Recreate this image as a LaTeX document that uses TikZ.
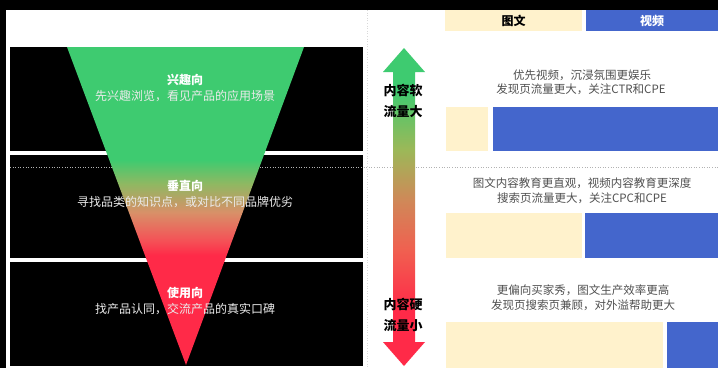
\documentclass[tikz,border=0pt]{standalone}
\usepackage{fontspec}
\setmainfont{Noto Sans CJK SC}
\definecolor{fgreen}{HTML}{3ECB70}
\definecolor{folive}{HTML}{8FB862}
\definecolor{forange}{HTML}{D89068}
\definecolor{forange2}{HTML}{F55056}
\definecolor{fred}{HTML}{FF2A48}
\definecolor{aolive}{HTML}{9CB858}
\definecolor{aorange}{HTML}{D08858}
\definecolor{asalmon}{HTML}{F06050}
\definecolor{cream}{HTML}{FFF2CC}
\definecolor{vblue}{HTML}{4466CC}
\definecolor{txtgray}{HTML}{505050}
\pgfdeclareverticalshading{funnelshade}{100bp}{color(0bp)=(fred); color(42.25bp)=(fred); color(44.5bp)=(forange2); color(49bp)=(forange); color(53.5bp)=(folive); color(57.25bp)=(fgreen); color(100bp)=(fgreen)}
\pgfdeclareverticalshading{arrowshade}{100bp}{color(0bp)=(fred); color(34bp)=(fred); color(43.25bp)=(asalmon); color(51bp)=(aorange); color(59bp)=(aolive); color(68.5bp)=(fgreen); color(100bp)=(fgreen)}
\tikzset{
  ftitle/.style={text=white, font=\fontsize{12}{14}\selectfont\bfseries, inner sep=0pt},
  ftext/.style={text=white!92!black, font=\fontsize{12}{14}\selectfont, inner sep=0pt},
  rtext/.style={text=txtgray, font=\fontsize{11.5}{13}\selectfont, inner sep=0pt},
  alabel/.style={text=black, font=\fontsize{13}{15}\selectfont\bfseries, inner sep=0pt},
  hbox/.style={inner sep=0pt, font=\fontsize{12}{14}\selectfont\bfseries, minimum height=21pt},
  blackbox/.style={fill=black},
  sep/.style={dotted, line width=0.6pt}
}
\begin{document}
\begin{tikzpicture}[x=1pt,y=-1pt]
\useasboundingbox (0,0) rectangle (718,368);
\fill[white] (0,0) rectangle (718,368);
\fill[black] (0,0) rectangle (718,10);
\fill[black] (0,0) rectangle (6,368);
% left boxes
\fill[blackbox] (10,47) rectangle (363,151);
\fill[blackbox] (10,155) rectangle (363,258);
\fill[blackbox] (10,262) rectangle (363,366);
% separators
\draw[sep, gray!60] (10,167) -- (718,167);
\draw[sep, gray!30] (367,10) -- (367,368);
% funnel
\shade[shading=funnelshade] (67,47) -- (304,47) -- (186,365) -- cycle;
\node[ftitle] (t1) at (185,80) {兴趣向};
\node[ftext] (d1) at (185,96) {先兴趣浏览，看见产品的应用场景};
\node[ftitle] (t2) at (185,186) {垂直向};
\node[ftext] (d2) at (185,202) {寻找品类的知识点，或对比不同品牌优劣};
\node[ftitle] (t3) at (185,293) {使用向};
\node[ftext] (d3) at (185,309) {找产品认同，交流产品的真实口碑};
% arrow
\shade[shading=arrowshade] (404,48) -- (425,72) -- (415,72) -- (415,342) -- (425,342) -- (404,366) -- (383,342) -- (393,342) -- (393,72) -- (383,72) -- cycle;
\node[alabel] (a1) at (403,90) {内容软};
\node[alabel] (a2) at (403,112) {流量大};
\node[alabel] (a3) at (403,304) {内容硬};
\node[alabel] (a4) at (403,326) {流量小};
% header
\node[hbox, fill=cream, text=black, minimum width=137pt, anchor=north west] (h1) at (445,10) {图文};
\node[hbox, fill=vblue, text=white, minimum width=132pt, anchor=north west] (h2) at (586,10) {视频};
% row 1
\node[rtext] (r1a) at (582,75) {优先视频，沉浸氛围更娱乐};
\node[rtext] (r1b) at (581,89) {发现页流量更大，关注CTR和CPE};
\fill[cream] (446,107) rectangle (488,151);
\fill[vblue] (493,107) rectangle (718,151);
% row 2
\node[rtext] (r2a) at (582,183) {图文内容教育更直观，视频内容教育更深度};
\node[rtext] (r2b) at (582,198) {搜索页流量更大，关注CPC和CPE};
\fill[cream] (446,213) rectangle (582,258);
\fill[vblue] (585,213) rectangle (718,258);
% row 3
\node[rtext] (r3a) at (583,290) {更偏向买家秀，图文生产效率更高};
\node[rtext] (r3b) at (583,305) {发现页搜索页兼顾，对外溢帮助更大};
\fill[cream] (446,322) rectangle (663,368);
\fill[vblue] (667,322) rectangle (718,368);
\end{tikzpicture}
\end{document}
